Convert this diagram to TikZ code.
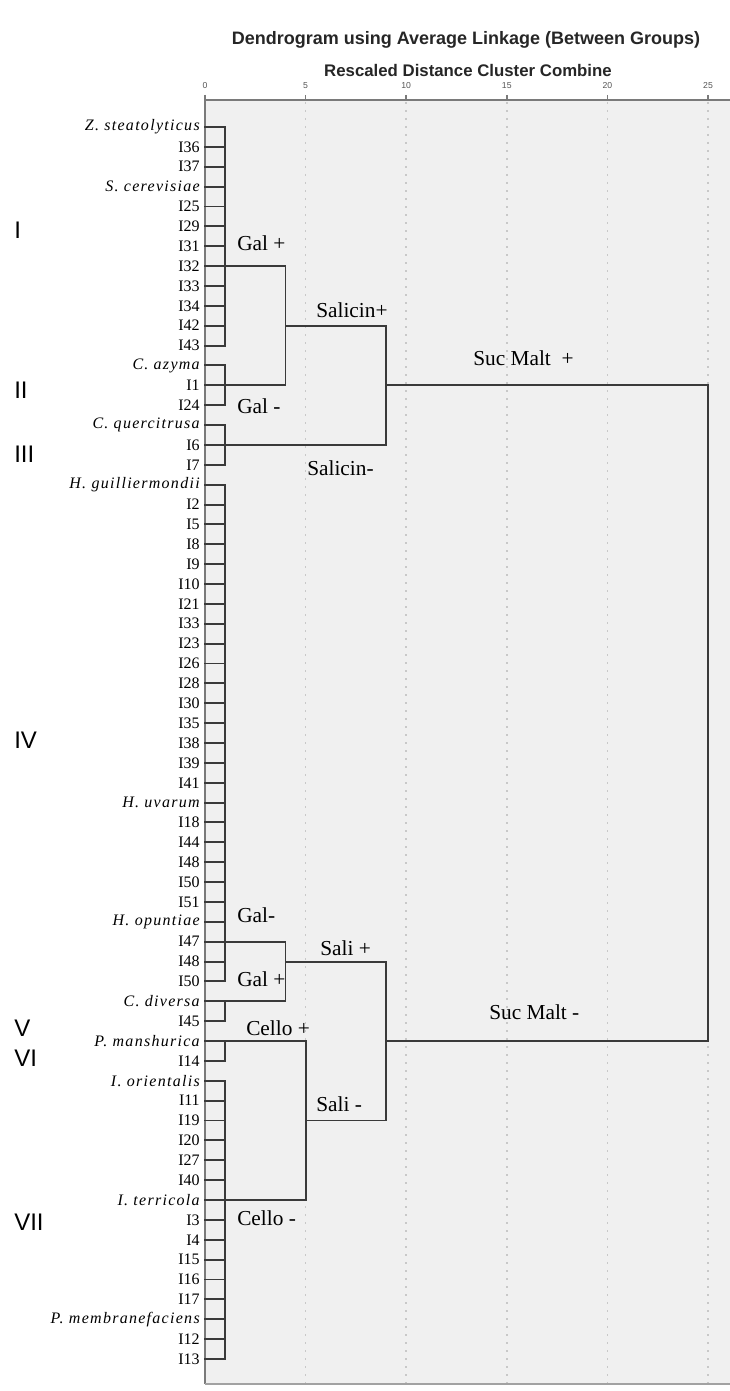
\documentclass[tikz,border=0pt]{standalone}
\usepackage{fontspec}
\setmainfont{Liberation Serif}
\setsansfont{Liberation Sans}
\usetikzlibrary{calc}
\definecolor{plotbg}{HTML}{F0F0F0}
\definecolor{frameline}{HTML}{7A7A7A}
\definecolor{gridline}{HTML}{C8C8C8}
\definecolor{dendline}{HTML}{3A3A3A}
\definecolor{ticktext}{HTML}{555555}
\newcommand\spname[1]{{\itshape\addfontfeature{LetterSpace=8}#1}}
\tikzset{
  dend/.style={draw=dendline, line width=1.45pt, line cap=rect, line join=miter},
  leaflabel/.style={anchor=east, inner sep=0pt, font=\fontsize{12}{12}\selectfont},
  testlabel/.style={anchor=west, inner sep=0pt, font=\fontsize{16}{16}\selectfont},
  grouplabel/.style={anchor=west, inner sep=0pt, font=\sffamily\fontsize{18}{18}\selectfont},
  ticklabel/.style={inner sep=0pt, text=ticktext, font=\sffamily\fontsize{6.5}{6.5}\selectfont},
  gridrule/.style={draw=gridline, line width=1.1pt, dash pattern=on 1.2pt off 4.8pt},
}
\begin{document}
\begin{tikzpicture}[x=0.75pt, y=-0.75pt]
\useasboundingbox (0,0) rectangle (730,1391);

% plot panel
\fill[plotbg] (205,100) rectangle (730,1384);
\foreach \d in {5,10,15,20,25} {
  \draw[gridrule] ({205+20.12*\d},102) -- ({205+20.12*\d},1383);
}
\draw[draw=frameline, line width=1.2pt] (205,95) -- (205,1384);
\draw[draw=frameline, line width=1.2pt] (205,100) -- (730,100);
\draw[draw=frameline!70, line width=1.4pt] (205,1384) -- (730,1384);
\foreach \d in {0,5,10,15,20,25} {
  \draw[draw=frameline, line width=1.2pt] ({205+20.12*\d},95) -- ({205+20.12*\d},100);
  \node[ticklabel] (tick\d) at ({205+20.12*\d},86) {\d};
}

% titles
\node[font=\sffamily\bfseries\fontsize{13.5}{13.5}\selectfont, text=black!85] (title) at (466,40) {Dendrogram using Average Linkage (Between Groups)};
\node[font=\sffamily\bfseries\fontsize{12.6}{12.6}\selectfont, text=black!85] (subtitle) at (468,70) {Rescaled Distance Cluster Combine};

% merge levels on the rescaled axis
\coordinate (x1) at (225.1,0);
\coordinate (x4) at (285.5,0);
\coordinate (x5) at (305.6,0);
\coordinate (x9) at (386.1,0);
\coordinate (x25) at (708,0);

% leaves
\foreach \n [count=\i] in {
  {\spname{Z. steatolyticus}}, I36, I37, {\spname{S. cerevisiae}}, I25, I29, I31, I32, I33, I34, I42, I43,
  {\spname{C. azyma}}, I1, I24,
  {\spname{C. quercitrusa}}, I6, I7,
  {\spname{H. guilliermondii}}, I2, I5, I8, I9, I10, I21, I33, I23, I26, I28, I30, I35, I38, I39, I41,
  {\spname{H. uvarum}}, I18, I44, I48, I50, I51, {\spname{H. opuntiae}}, I47, I48, I50,
  {\spname{C. diversa}}, I45,
  {\spname{P. manshurica}}, I14,
  {\spname{I. orientalis}}, I11, I19, I20, I27, I40, {\spname{I. terricola}}, I3, I4, I15, I16, I17,
  {\spname{P. membranefaciens}}, I12, I13} {
  \pgfmathsetmacro\yy{127+(\i-1)*19.87}
  \node[leaflabel] (leaf\i) at (200,\yy) {\n};
  \coordinate (s\i) at (205,\yy);
  \coordinate (t\i) at (225.1,\yy);
  \draw[dend] (s\i) -- (t\i);
}

% clusters I, II, III
\draw[dend] (t1) -- (t12);
\draw[dend] (t8) -- (t8 -| x4);
\draw[dend] (t13) -- (t15);
\draw[dend] (t14) -- (t14 -| x4);
\draw[dend] (t8 -| x4) -- (t14 -| x4);
\coordinate (jA) at ($(t8 -| x4)!0.5!(t14 -| x4)$);
\draw[dend] (jA) -- (jA -| x9);
\draw[dend] (t16) -- (t18);
\draw[dend] (t17) -- (t17 -| x9);
\draw[dend] (jA -| x9) -- (t17 -| x9);
\coordinate (jB) at ($(jA -| x9)!0.5!(t17 -| x9)$);
\draw[dend] (jB) -- (jB -| x25);

% clusters IV, V
\draw[dend] (t19) -- (t44);
\draw[dend] (t42) -- (t42 -| x4);
\draw[dend] (t45) -- (t46);
\draw[dend] (t45) -- (t45 -| x4);
\draw[dend] (t42 -| x4) -- (t45 -| x4);
\coordinate (jC) at (t43 -| x4);
\draw[dend] (jC) -- (jC -| x9);

% clusters VI, VII
\draw[dend] (t47) -- (t48);
\draw[dend] (t47) -- (t47 -| x5);
\draw[dend] (t49) -- (t63);
\draw[dend] (t55) -- (t55 -| x5);
\draw[dend] (t47 -| x5) -- (t55 -| x5);
\coordinate (jD) at ($(t47 -| x5)!0.5!(t55 -| x5)$);
\draw[dend] (jD) -- (jD -| x9);
\draw[dend] (jC -| x9) -- (jD -| x9);
\coordinate (jE) at ($(jC -| x9)!0.5!(jD -| x9)$);
\draw[dend] (jE) -- (jE -| x25);

% top-level join
\draw[dend] (jB -| x25) -- (jE -| x25);

% test labels
\node[testlabel] (galp1) at (237,243) {Gal +};
\node[testlabel] (galm1) at (237,406) {Gal -};
\node[testlabel] (salp) at (316,310) {Salicin+};
\node[testlabel] (sucp) at (473,358) {Suc Malt\ \ +};
\node[testlabel] (salm) at (307,468) {Salicin-};
\node[testlabel] (galm2) at (237,915) {Gal-};
\node[testlabel] (salip) at (320,948) {Sali +};
\node[testlabel] (galp2) at (237,979) {Gal +};
\node[testlabel] (cellop) at (246,1028) {Cello +};
\node[testlabel] (sucm) at (489,1012) {Suc Malt -};
\node[testlabel] (salim) at (316,1104) {Sali -};
\node[testlabel] (cellom) at (237,1218) {Cello -};

% group numerals
\node[grouplabel] (gI) at (14,230) {I};
\node[grouplabel] (gII) at (14,390) {II};
\node[grouplabel] (gIII) at (14,454) {III};
\node[grouplabel] (gIV) at (14,740) {IV};
\node[grouplabel] (gV) at (14,1028) {V};
\node[grouplabel] (gVI) at (14,1058) {VI};
\node[grouplabel] (gVII) at (14,1222) {VII};
\end{tikzpicture}
\end{document}
